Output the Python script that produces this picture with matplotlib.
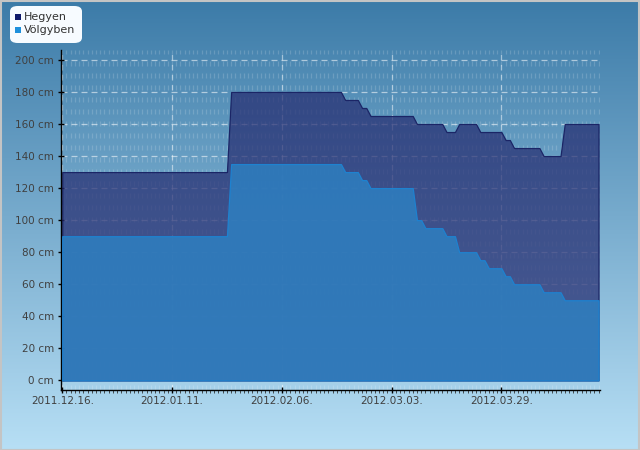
import matplotlib
matplotlib.use('Agg')
import matplotlib.pyplot as plt
import matplotlib.dates as mdates
from matplotlib.patches import FancyBboxPatch, Rectangle
import numpy as np
import datetime as dt

# ---- data ----
dates = ['2011-12-16', '2012-01-24', '2012-01-25', '2012-02-20', '2012-02-21',
         '2012-02-24', '2012-02-25', '2012-02-26', '2012-02-27', '2012-03-08',
         '2012-03-09', '2012-03-10', '2012-03-11', '2012-03-15', '2012-03-16',
         '2012-03-18', '2012-03-19', '2012-03-23', '2012-03-24', '2012-03-25',
         '2012-03-26', '2012-03-29', '2012-03-30', '2012-03-31', '2012-04-01',
         '2012-04-07', '2012-04-08', '2012-04-12', '2012-04-13', '2012-04-21']
hegyen = [130, 130, 180, 180, 175, 175, 170, 170, 165, 165,
          160, 160, 160, 160, 155, 155, 160, 160, 155, 155,
          155, 155, 150, 150, 145, 145, 140, 140, 160, 160]
volgyben = [90, 90, 135, 135, 130, 130, 125, 125, 120, 120,
            100, 100, 95, 95, 90, 90, 80, 80, 75, 75,
            70, 70, 65, 65, 60, 60, 55, 55, 50, 50]
series_names = ['Hegyen', 'Völgyben']
y_ticks = [0, 20, 40, 60, 80, 100, 120, 140, 160, 180, 200]
x_tick_labels = ['2011.12.16.', '2012.01.11.', '2012.02.06.', '2012.03.03.', '2012.03.29.']

# ---- figure ----
W, H = 640, 450
fig = plt.figure(figsize=(W / 100, H / 100), dpi=100)

# background gradient
bg = fig.add_axes([0, 0, 1, 1], zorder=-10)
top = np.array([60, 123, 168]) / 255
bot = np.array([183, 223, 245]) / 255
t = np.linspace(0, 1, 256)[:, None]
grad = top[None, :] * (1 - t) + bot[None, :] * t
bg.imshow(grad[:, None, :], aspect='auto', extent=[0, 1, 0, 1], origin='upper')
bg.set_xlim(0, 1); bg.set_ylim(0, 1)
bg.axis('off')
fig.patches.append(Rectangle((0.5 / W, 0.5 / H), 1 - 1.5 / W, 1 - 1.5 / H,
                             transform=fig.transFigure, fill=False,
                             edgecolor='#c4c4c4', linewidth=1.5, zorder=20))

ax = fig.add_axes([61 / W, (H - 390) / H, (600 - 61) / W, (390 - 50) / H])
ax.set_facecolor('none')

x = [mdates.date2num(dt.datetime.strptime(d, '%Y-%m-%d')) for d in dates]
x0 = x[0]

# grid
xt = [mdates.date2num(dt.datetime.strptime(l, '%Y.%m.%d.')) for l in x_tick_labels]
minor_x = np.arange(np.floor(x0), np.ceil(x[-1]) + 1, 1.0)
for mx in minor_x:
    ax.axvline(mx, color='white', alpha=0.16, linewidth=0.9,
               linestyle=(0, (4, 5.6)), zorder=0)
for tx in xt:
    ax.axvline(tx, color='white', alpha=0.5, linewidth=0.9,
               linestyle=(0, (4.5, 3.5)), zorder=0.5)
for ty in y_ticks:
    ax.axhline(ty, color='white', alpha=0.55, linewidth=0.9,
               linestyle=(0, (4.8, 3.2)), zorder=0.5)

# areas
ax.fill_between(x, 0, hegyen, facecolor=(38 / 255, 45 / 255, 113 / 255, 0.72),
                edgecolor='#1b2566', linewidth=0.9, zorder=2)
ax.fill_between(x, 0, volgyben, facecolor=(46 / 255, 127 / 255, 192 / 255, 0.86),
                edgecolor='#1e82d0', linewidth=0.9, zorder=3)

ax.set_xlim(x0 - 0.3, x[-1] + 0.35)
ax.set_ylim(-6, 206.2)

ax.set_yticks(y_ticks)
ax.set_yticklabels([f'{v} cm' for v in y_ticks])
ax.set_xticks(xt)
ax.set_xticklabels(x_tick_labels)
ax.set_xticks(minor_x, minor=True)

for s in ['top', 'right']:
    ax.spines[s].set_visible(False)
for s in ['left', 'bottom']:
    ax.spines[s].set_color('black')
    ax.spines[s].set_linewidth(1.0)

ax.tick_params(axis='both', which='major', direction='inout', length=4, width=1,
               colors='black', labelcolor='#404040', labelsize=7.5)
ax.tick_params(axis='y', which='major', pad=3)
ax.tick_params(axis='x', which='major', pad=2)
ax.tick_params(axis='x', which='minor', direction='out', length=1.8, width=0.6,
               colors='#333333')

# legend
fig.patches.append(FancyBboxPatch((10 / W, (H - 43) / H), 72 / W, 37 / H,
                                  boxstyle='round,pad=0,rounding_size=0.012',
                                  transform=fig.transFigure, facecolor='#f7fbff',
                                  edgecolor='none', zorder=10))
leg_colors = ['#101a6a', '#1e90dc']
leg_y = [17, 30]
for name, c, yy in zip(series_names, leg_colors, leg_y):
    fig.patches.append(Rectangle((15 / W, (H - yy - 3) / H), 6 / W, 6 / H,
                                 transform=fig.transFigure, facecolor=c,
                                 edgecolor='none', zorder=11))
    fig.text(24 / W, (H - yy) / H, name, fontsize=8, color='#333333',
             va='center', ha='left', zorder=12)

fig.savefig('out.png', dpi=100)
